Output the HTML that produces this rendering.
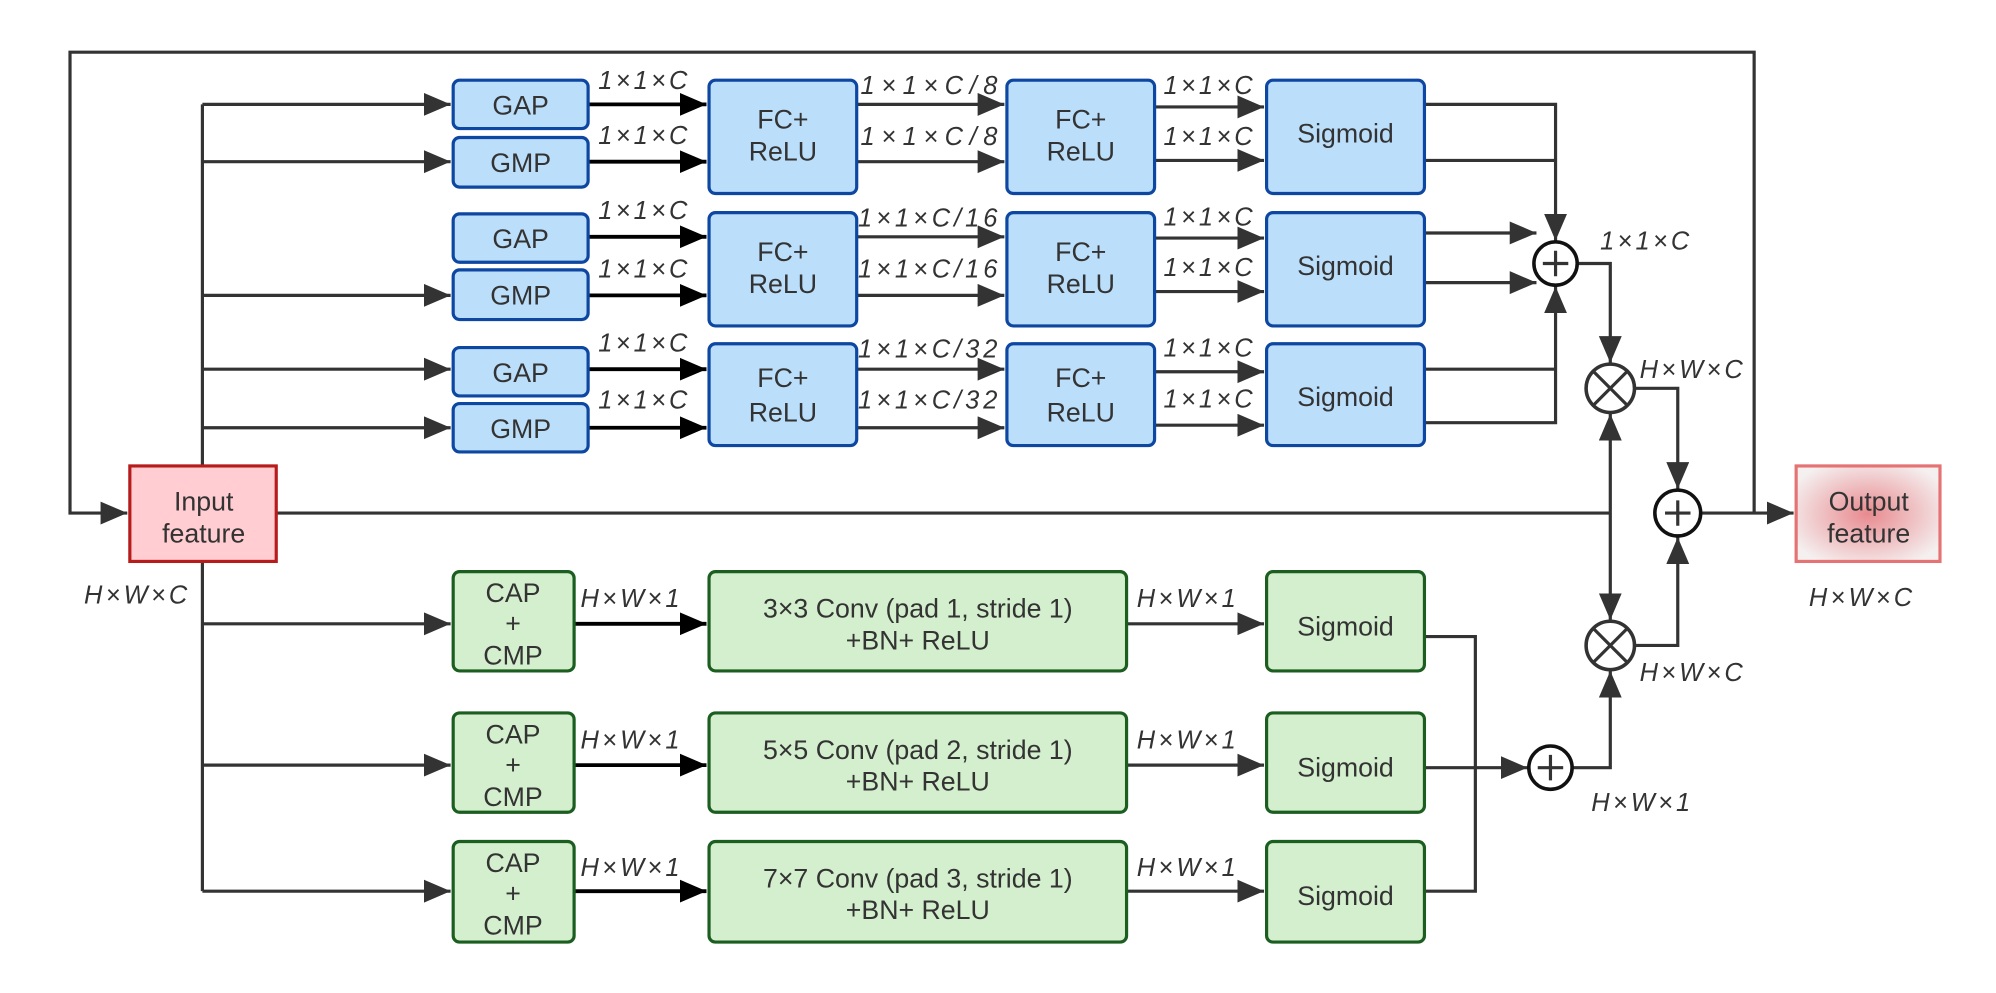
<!DOCTYPE html>
<html><head><meta charset="utf-8"><style>
html,body{margin:0;padding:0;background:#fff;}
svg{display:block;}
text{font-family:"Liberation Sans",sans-serif;fill:#333;}
.lb{font-style:italic;font-size:20px;letter-spacing:2.5px;}
.bx{font-size:21px;text-anchor:middle;}
</style></head><body>
<svg width="1996" height="993" viewBox="0 0 1568 780" preserveAspectRatio="none" xmlns="http://www.w3.org/2000/svg">
<defs>
<marker id="a" markerUnits="userSpaceOnUse" markerWidth="24" markerHeight="20" refX="21" refY="9" orient="auto"><path d="M0,0 L21,9 L0,18 z" fill="#333"/></marker>
<marker id="b" markerUnits="userSpaceOnUse" markerWidth="24" markerHeight="20" refX="21" refY="9" orient="auto"><path d="M0,0 L21,9 L0,18 z" fill="#000"/></marker>
<radialGradient id="og" cx="50%" cy="50%" r="60%"><stop offset="0" stop-color="#e88a8f"/><stop offset="1" stop-color="#f5f0f0"/></radialGradient>
</defs>
<g fill="none" stroke="#333" stroke-width="2.5">
<path d="M1378,403 V41 H55 V403 H100" marker-end="url(#a)"/>
<path d="M159,365 V82"/>
<path d="M159,441 V700"/>
<path d="M159,82 H354" marker-end="url(#a)"/>
<path d="M159,127 H354" marker-end="url(#a)"/>
<path d="M159,232 H354" marker-end="url(#a)"/>
<path d="M159,290 H354" marker-end="url(#a)"/>
<path d="M159,336 H354" marker-end="url(#a)"/>
<path d="M159,490 H354" marker-end="url(#a)"/>
<path d="M159,601 H354" marker-end="url(#a)"/>
<path d="M159,700 H354" marker-end="url(#a)"/>
<path d="M673,82 H789" marker-end="url(#a)"/>
<path d="M673,127 H789" marker-end="url(#a)"/>
<path d="M673,186 H789" marker-end="url(#a)"/>
<path d="M673,232 H789" marker-end="url(#a)"/>
<path d="M673,290 H789" marker-end="url(#a)"/>
<path d="M673,336 H789" marker-end="url(#a)"/>
<path d="M907,84 H993" marker-end="url(#a)"/>
<path d="M907,126 H993" marker-end="url(#a)"/>
<path d="M907,187 H993" marker-end="url(#a)"/>
<path d="M907,229 H993" marker-end="url(#a)"/>
<path d="M907,292 H993" marker-end="url(#a)"/>
<path d="M907,334 H993" marker-end="url(#a)"/>
<path d="M1119,82 H1222 V189" marker-end="url(#a)"/>
<path d="M1119,126 H1222"/>
<path d="M1119,183 H1207" marker-end="url(#a)"/>
<path d="M1119,222 H1207" marker-end="url(#a)"/>
<path d="M1119,332 H1222 V225" marker-end="url(#a)"/>
<path d="M1119,290 H1222"/>
<path d="M1240,207 H1265 V285" marker-end="url(#a)"/>
<path d="M1285,305 H1318 V384" marker-end="url(#a)"/>
<path d="M217,403 H1265"/>
<path d="M1265,403 V325" marker-end="url(#a)"/>
<path d="M1265,403 V487" marker-end="url(#a)"/>
<path d="M1285,507 H1318 V422" marker-end="url(#a)"/>
<path d="M1337,403 H1409" marker-end="url(#a)"/>
<path d="M885,490 H993" marker-end="url(#a)"/>
<path d="M885,601 H993" marker-end="url(#a)"/>
<path d="M885,700 H993" marker-end="url(#a)"/>
<path d="M1119,500 H1159 V700 H1119"/>
<path d="M1119,603 H1200" marker-end="url(#a)"/>
<path d="M1236,603 H1265 V527" marker-end="url(#a)"/>
</g>
<g fill="none" stroke="#000" stroke-width="3">
<path d="M462,82 H555" marker-end="url(#b)"/>
<path d="M462,127 H555" marker-end="url(#b)"/>
<path d="M462,186 H555" marker-end="url(#b)"/>
<path d="M462,232 H555" marker-end="url(#b)"/>
<path d="M462,290 H555" marker-end="url(#b)"/>
<path d="M462,336 H555" marker-end="url(#b)"/>
<path d="M451,490 H555" marker-end="url(#b)"/>
<path d="M451,601 H555" marker-end="url(#b)"/>
<path d="M451,700 H555" marker-end="url(#b)"/>
</g>
<g fill="#bbdefb" stroke="#0d47a1" stroke-width="2.5">
<rect x="356" y="63" width="106" height="38" rx="5"/>
<rect x="356" y="108" width="106" height="39" rx="5"/>
<rect x="356" y="168" width="106" height="38" rx="5"/>
<rect x="356" y="212" width="106" height="39" rx="5"/>
<rect x="356" y="273" width="106" height="38" rx="5"/>
<rect x="356" y="317" width="106" height="38" rx="5"/>
<rect x="557" y="63" width="116" height="89" rx="5"/>
<rect x="557" y="167" width="116" height="89" rx="5"/>
<rect x="557" y="270" width="116" height="80" rx="5"/>
<rect x="791" y="63" width="116" height="89" rx="5"/>
<rect x="791" y="167" width="116" height="89" rx="5"/>
<rect x="791" y="270" width="116" height="80" rx="5"/>
<rect x="995" y="63" width="124" height="89" rx="5"/>
<rect x="995" y="167" width="124" height="89" rx="5"/>
<rect x="995" y="270" width="124" height="80" rx="5"/>
</g>
<g fill="#d4efcd" stroke="#1b5e20" stroke-width="2.5">
<rect x="356" y="449" width="95" height="78" rx="5"/>
<rect x="356" y="560" width="95" height="78" rx="5"/>
<rect x="356" y="661" width="95" height="79" rx="5"/>
<rect x="557" y="449" width="328" height="78" rx="5"/>
<rect x="557" y="560" width="328" height="78" rx="5"/>
<rect x="557" y="661" width="328" height="79" rx="5"/>
<rect x="995" y="449" width="124" height="78" rx="5"/>
<rect x="995" y="560" width="124" height="78" rx="5"/>
<rect x="995" y="661" width="124" height="79" rx="5"/>
</g>
<rect x="102" y="366" width="115" height="75" fill="#ffcdd2" stroke="#b71c1c" stroke-width="2.5"/>
<rect x="1411" y="366" width="113" height="75" fill="url(#og)" stroke="#e57373" stroke-width="2.5"/>
<g fill="#fff" stroke="#111" stroke-width="2.8">
<circle cx="1222" cy="207" r="17"/>
<circle cx="1318" cy="403" r="18"/>
<circle cx="1218" cy="603" r="17"/>
<circle cx="1265" cy="305" r="19" stroke="#333"/>
<circle cx="1265" cy="507" r="19" stroke="#333"/>
</g>
<g stroke="#333" stroke-width="2.5">
<path d="M1212,207 H1232 M1222,197 V217"/>
<path d="M1308,403 H1328 M1318,393 V413"/>
<path d="M1208,603 H1228 M1218,593 V613"/>
<path d="M1252,292 L1278,318 M1278,292 L1252,318"/>
<path d="M1252,494 L1278,520 M1278,494 L1252,520"/>
</g>
<text x="409" y="90" class="bx">GAP</text>
<text x="409" y="135" class="bx">GMP</text>
<text x="409" y="195" class="bx">GAP</text>
<text x="409" y="239" class="bx">GMP</text>
<text x="409" y="300" class="bx">GAP</text>
<text x="409" y="344" class="bx">GMP</text>
<text x="615" y="101" class="bx">FC+</text><text x="615" y="126" class="bx">ReLU</text>
<text x="615" y="205" class="bx">FC+</text><text x="615" y="230" class="bx">ReLU</text>
<text x="615" y="304" class="bx">FC+</text><text x="615" y="331" class="bx">ReLU</text>
<text x="849" y="101" class="bx">FC+</text><text x="849" y="126" class="bx">ReLU</text>
<text x="849" y="205" class="bx">FC+</text><text x="849" y="230" class="bx">ReLU</text>
<text x="849" y="304" class="bx">FC+</text><text x="849" y="331" class="bx">ReLU</text>
<text x="1057" y="112" class="bx">Sigmoid</text>
<text x="1057" y="216" class="bx">Sigmoid</text>
<text x="1057" y="319" class="bx">Sigmoid</text>
<text x="1057" y="499" class="bx">Sigmoid</text>
<text x="1057" y="610" class="bx">Sigmoid</text>
<text x="1057" y="711" class="bx">Sigmoid</text>
<text x="403" y="473" class="bx">CAP</text><text x="403" y="497" class="bx">+</text><text x="403" y="522" class="bx">CMP</text>
<text x="403" y="584" class="bx">CAP</text><text x="403" y="608" class="bx">+</text><text x="403" y="633" class="bx">CMP</text>
<text x="403" y="685" class="bx">CAP</text><text x="403" y="709" class="bx">+</text><text x="403" y="734" class="bx">CMP</text>
<text x="721" y="485" class="bx">3×3 Conv (pad 1, stride 1)</text><text x="721" y="510" class="bx">+BN+ ReLU</text>
<text x="721" y="596" class="bx">5×5 Conv (pad 2, stride 1)</text><text x="721" y="621" class="bx">+BN+ ReLU</text>
<text x="721" y="697" class="bx">7×7 Conv (pad 3, stride 1)</text><text x="721" y="722" class="bx">+BN+ ReLU</text>
<text x="160" y="401" class="bx">Input</text><text x="160" y="426" class="bx">feature</text>
<text x="1468" y="401" class="bx">Output</text><text x="1468" y="426" class="bx">feature</text>
<g class="lb">
<text x="470" y="70">1×1×C</text><text x="470" y="113">1×1×C</text>
<text x="470" y="172">1×1×C</text><text x="470" y="218">1×1×C</text>
<text x="470" y="276">1×1×C</text><text x="470" y="321">1×1×C</text>
<text x="676" y="74" textLength="110">1×1×C/8</text><text x="676" y="114" textLength="110">1×1×C/8</text>
<text x="674" y="178" textLength="112">1×1×C/16</text><text x="674" y="218" textLength="112">1×1×C/16</text>
<text x="674" y="281" textLength="112">1×1×C/32</text><text x="674" y="321" textLength="112">1×1×C/32</text>
<text x="914" y="74">1×1×C</text><text x="914" y="114">1×1×C</text>
<text x="914" y="177">1×1×C</text><text x="914" y="217">1×1×C</text>
<text x="914" y="280">1×1×C</text><text x="914" y="320">1×1×C</text>
<text x="456" y="477">H×W×1</text><text x="456" y="588">H×W×1</text><text x="456" y="688">H×W×1</text>
<text x="893" y="477">H×W×1</text><text x="893" y="588">H×W×1</text><text x="893" y="688">H×W×1</text>
<text x="1257" y="196">1×1×C</text>
<text x="1288" y="297">H×W×C</text>
<text x="1288" y="535">H×W×C</text>
<text x="1250" y="637">H×W×1</text>
<text x="1421" y="476">H×W×C</text>
<text x="66" y="474">H×W×C</text>
</g>
</svg>
</body></html>
